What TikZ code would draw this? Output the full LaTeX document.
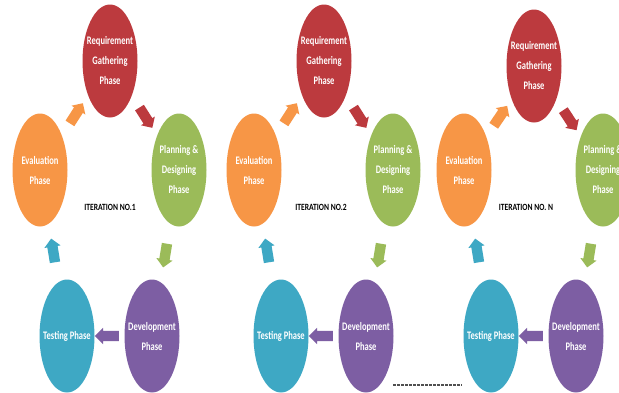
\documentclass[tikz,border=0pt]{standalone}
\usepackage{fontspec}
\newfontfamily\phasefont{Carlito}[FakeStretch=0.74]
\newfontfamily\iterfont{Carlito}[FakeStretch=0.8]
\usetikzlibrary{shapes.geometric,shapes.arrows,calc}
\definecolor{reqred}{HTML}{BC3A3E}
\definecolor{plangreen}{HTML}{9BBB59}
\definecolor{evalorange}{HTML}{F79646}
\definecolor{testteal}{HTML}{3EA8C4}
\definecolor{devpurple}{HTML}{7D5EA3}
\definecolor{dotgray}{HTML}{505050}
\tikzset{
  phase/.style={ellipse, minimum width=55pt, minimum height=113pt, inner sep=0pt, draw=none},
  phasetext/.style={text=white, align=center, inner sep=0pt,
    font=\phasefont\bfseries\fontsize{11.5}{20}\selectfont},
  blockarrow/.style={single arrow, draw=none, fill=#1, minimum height=24pt,
    inner xsep=0pt, inner ysep=5pt, single arrow head extend=3pt},
  itlabel/.style={text=black, inner sep=0pt,
    font=\iterfont\bfseries\fontsize{9.5}{10}\selectfont},
}
\newcommand\cyclearrow[4]{% name, from, to, colour
  \path let \p1=($(#3)-(#2)$), \n1={atan2(\y1,\x1)} in
    node[blockarrow=#4, rotate=\n1] (#1) at ($(#2)!0.5!(#3)$) {};
}
\newcommand\drawcycle[5]{% prefix, x shift, label, req y, label x
  \begin{scope}[shift={(#2,0)}]
    \node[phase, fill=reqred, label={[phasetext]center:Requirement\\Gathering\\Phase}] (#1req) at (110,#4) {};
    \node[phase, fill=plangreen, label={[phasetext]center:Planning \&\\Designing\\Phase}] (#1plan) at (179,170) {};
    \node[phase, fill=devpurple, label={[phasetext]center:Development\\Phase}] (#1dev) at (152,336) {};
    \node[phase, fill=testteal, label={[phasetext]center:Testing Phase}] (#1test) at (67,336) {};
    \node[phase, fill=evalorange, label={[phasetext]center:Evaluation\\Phase}] (#1eval) at (40,170) {};
    \node[itlabel] (#1label) at (#5,207) {#3};
  \end{scope}
  \cyclearrow{#1a1}{#1eval}{#1req}{evalorange}
  \cyclearrow{#1a2}{#1req}{#1plan}{reqred}
  \cyclearrow{#1a3}{#1plan}{#1dev}{plangreen}
  \cyclearrow{#1a4}{#1dev}{#1test}{devpurple}
  \cyclearrow{#1a5}{#1test}{#1eval}{testteal}
}
\begin{document}
\begin{tikzpicture}[x=1pt, y=-1pt]
  \useasboundingbox (0,0) rectangle (619,392);
  \clip (0,0) rectangle (619,392);
  \fill[white] (0,0) rectangle (619,392);
  \drawcycle{c1}{0}{ITERATION NO.1}{61}{110}
  \drawcycle{c2}{214}{ITERATION NO.2}{61}{107}
  \drawcycle{c3}{424}{ITERATION NO. N}{66}{102}
  \coordinate (dotA) at (393,385);
  \coordinate (dotB) at (462,385);
  \draw[dotgray, line width=2pt, dash pattern=on 2.5pt off 1.5pt] (dotA) -- (dotB);
\end{tikzpicture}
\end{document}
